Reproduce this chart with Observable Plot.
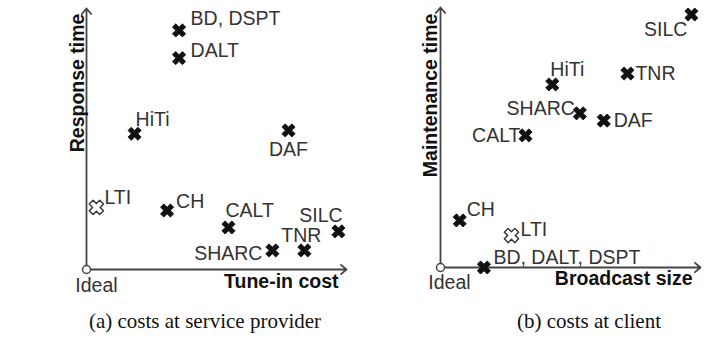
<!DOCTYPE html>
<html><head><meta charset="utf-8">
<script src="https://cdn.jsdelivr.net/npm/d3@7"></script>
<script src="https://cdn.jsdelivr.net/npm/@observablehq/plot@0.6"></script>
<style>
body{margin:0;background:#fff;}
#wrap{position:relative;width:725px;height:344px;overflow:hidden;background:#fff;}
.panel{position:absolute;top:0;}
.cap{position:absolute;top:311px;transform:translateX(-50%);white-space:nowrap;font-family:"Liberation Serif","Times New Roman",serif;font-size:21px;line-height:21px;color:#111;}
</style></head><body>
<div id="wrap"></div>
<script>
// ---- Panel (a): costs at service provider ----
const namesA = ["BD, DSPT","DALT","HiTi","DAF","LTI","CH","CALT","SHARC","TNR","SILC"];
const tuneInCost = [35.6,35.6,18.5,77.7,3.8,31.0,54.6,71.5,83.8,96.9];
const responseTime = [91.6,81.0,52.0,53.3,23.8,22.6,16.1,7.3,7.3,14.6];
const hollowA = [false,false,false,false,true,false,false,false,false,false];
// ---- Panel (b): costs at client ----
const namesB = ["SILC","TNR","HiTi","SHARC","DAF","CALT","CH","LTI","BD, DALT, DSPT"];
const broadcastSize = [96.5,71.9,43.0,53.6,62.8,32.7,7.4,27.3,16.7];
const maintenanceTime = [97.3,74.6,70.4,59.3,56.5,50.8,18.1,12.3,0];
const hollowB = [false,false,false,false,false,false,false,true,false];
const axisDomain = [0, 100];
const captions = ["(a) costs at service provider", "(b) costs at client"];

// label placement (style only): [dx, dy, anchor]
const placeA = [[11.5,-12,"start"],[11.5,-7.5,"start"],[1,-14.5,"start"],[0,19,"middle"],[8,-10,"start"],[9,-9,"start"],[-3,-17,"start"],[-10,3,"end"],[-3,-15,"middle"],[-17.5,-16,"middle"]];
const placeB = [[-4,15,"end"],[8,0,"start"],[-2,-15,"start"],[-5,-4.5,"end"],[10,0,"start"],[-5,0,"end"],[7,-11,"start"],[9,-6,"start"],[9.5,-10,"start"]];

function crossSymbol(a, L) {
  return {draw(ctx) {
    const c = Math.SQRT1_2;
    const pts = [[a,L],[a,a],[L,a],[L,-a],[a,-a],[a,-L],[-a,-L],[-a,-a],[-L,-a],[-L,a],[-a,a],[-a,L]];
    pts.forEach(([x,y],i)=>{const rx=(x-y)*c, ry=(x+y)*c; i?ctx.lineTo(rx,ry):ctx.moveTo(rx,ry);});
    ctx.closePath();
  }};
}
const boldX = crossSymbol(2.3, 7.0);
const hollowX = crossSymbol(2.7, 7.4);

function panel(o) {
  const idx = o.names.map((_, i) => i);
  const [d0, d1] = axisDomain;
  const labelMarks = idx.map(i => Plot.text([i], {
    x: j => o.xs[j], y: j => o.ys[j], text: j => o.names[j],
    dx: o.place[i][0], dy: o.place[i][1], textAnchor: o.place[i][2],
    fill: "#333", fontSize: 19.5
  }));
  return Plot.plot({
    width: o.width, height: 300,
    marginLeft: o.ml, marginRight: o.mr, marginTop: o.mt, marginBottom: o.mb,
    x: {domain: axisDomain, axis: null},
    y: {domain: axisDomain, axis: null},
    style: {fontFamily: "'Liberation Sans', Arial, sans-serif", background: "white", overflow: "visible"},
    marks: [
      Plot.arrow([0], {x1: () => d0, y1: () => d0, x2: () => d1, y2: () => d0, stroke: "#444", strokeWidth: 1.8, headLength: 6, headAngle: 80}),
      Plot.arrow([0], {x1: () => d0, y1: () => d0, x2: () => d0, y2: () => d1, stroke: "#444", strokeWidth: 1.8, headLength: 6, headAngle: 80}),
      Plot.dot([0], {x: () => d0, y: () => d0, r: 4, fill: "white", stroke: "#444", strokeWidth: 1.5}),
      Plot.dot(idx.filter(i => !o.hollow[i]), {x: i => o.xs[i], y: i => o.ys[i], symbol: boldX, r: 5, fill: "#111", stroke: "#111", strokeWidth: 0.9, strokeLinejoin: "round"}),
      Plot.dot(idx.filter(i => o.hollow[i]), {x: i => o.xs[i], y: i => o.ys[i], symbol: hollowX, r: 5, fill: "white", stroke: "#333", strokeWidth: 1.4, strokeLinejoin: "round"}),
      ...labelMarks,
      Plot.text(["Ideal"], {x: () => d0, y: () => d0, text: d => d, dx: o.idealDx, dy: o.idealDy, fill: "#333", fontSize: 19.5}),
      Plot.text([o.xTitle], {x: () => d1, y: () => d0, text: d => d, dx: -8, dy: o.xTitleDy, textAnchor: "end", fontWeight: "bold", fill: "#111", fontSize: 19.5}),
      Plot.text([o.yTitle], {x: () => d0, y: () => o.yTitleY, text: d => d, dx: o.yTitleDx, rotate: -90, fontWeight: "bold", fill: "#111", fontSize: 19.5})
    ]
  });
}

const wrap = document.getElementById("wrap");
const pa = panel({names: namesA, xs: tuneInCost, ys: responseTime, hollow: hollowA, place: placeA,
  width: 362, ml: 86, mr: 16, mt: 8, mb: 31, idealDx: 10, idealDy: 16,
  xTitle: "Tune-in cost", xTitleDy: 12, yTitle: "Response time", yTitleY: 71.5, yTitleDx: -9});
pa.classList.add("panel"); pa.style.left = "0px";
wrap.appendChild(pa);
const pb = panel({names: namesB, xs: broadcastSize, ys: maintenanceTime, hollow: hollowB, place: placeB,
  width: 363, ml: 78, mr: 25, mt: 7, mb: 33, idealDx: 9, idealDy: 15,
  xTitle: "Broadcast size", xTitleDy: 11, yTitle: "Maintenance time", yTitleY: 66.2, yTitleDx: -10});
pb.classList.add("panel"); pb.style.left = "362px";
wrap.appendChild(pb);

[[captions[0], 205], [captions[1], 589]].forEach(([t, cx]) => {
  const d = document.createElement("div");
  d.className = "cap"; d.textContent = t; d.style.left = cx + "px";
  wrap.appendChild(d);
});
</script>
</body></html>
